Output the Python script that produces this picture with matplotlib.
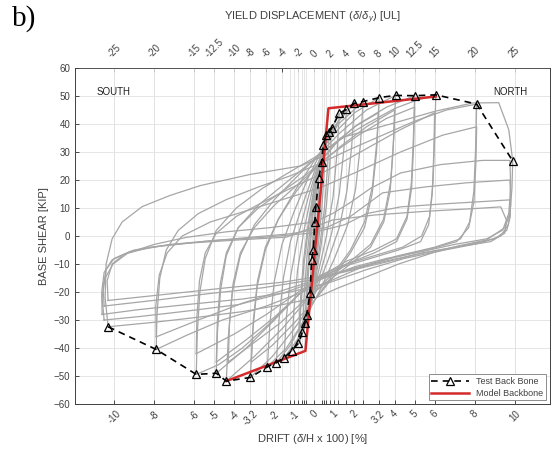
import matplotlib
matplotlib.use('Agg')
import matplotlib.pyplot as plt

plt.rcParams['font.family'] = ['Liberation Sans', 'DejaVu Sans']
plt.rcParams['mathtext.fontset'] = 'custom'
plt.rcParams['mathtext.rm'] = 'Liberation Sans'
plt.rcParams['mathtext.it'] = 'Liberation Sans:italic'

# drift [%] that equals one yield displacement
delta_y = 0.4

# test backbone points (drift %, base shear kip)
bb_drift = [-10.3, -7.9, -5.9, -4.9, -4.4, -3.2, -2.35, -1.9, -1.52, -1.14, -0.8, -0.6,
            -0.47, -0.39, -0.22, -0.14, -0.06, 0.02, 0.07, 0.22, 0.36, 0.44, 0.57, 0.74,
            0.86, 1.24, 1.6, 2.0, 2.43, 3.23, 4.05, 5.0, 6.06, 8.1, 9.9]
bb_shear = [-32.4, -40.5, -49.4, -49.0, -51.8, -50.5, -46.7, -45.2, -43.5, -41.0, -38.3, -34.2,
            -31.0, -28.2, -20.5, -8.6, -5.0, 5.0, 10.5, 20.6, 26.5, 32.5, 36.0, 37.3,
            38.5, 43.8, 45.2, 47.4, 48.0, 49.4, 50.2, 50.1, 50.4, 47.1, 26.8]

# model backbone
mod_drift = [-4.4, -0.45, 0.7, 6.06]
mod_shear = [-51.8, -41.0, 45.6, 49.8]

drift_ticks = [-10, -8, -6, -5, -4, -3.2, -2, -1, 0, 1, 2, 3.2, 4, 5, 6, 8, 10]
drift_minor = [-2.4, -1.2, -0.8, -0.6, -0.5, -0.4, 0.4, 0.5, 0.6, 0.8, 1.2, 1.6, 2.4]
yield_ticks = [-25, -20, -15, -12.5, -10, -8, -6, -4, -2, 0, 2, 4, 6, 8, 10, 12.5, 15, 20, 25]
shear_ticks = [-60, -50, -40, -30, -20, -10, 0, 10, 20, 30, 40, 50, 60]

# hysteresis cycles (drift %, shear kip)
cyc_a = [(-0.06, -5), (-0.04, -1), (0.0, 4), (0.04, 8), (0.07, 10.5), (0.05, 6), (0.02, 1),
         (-0.02, -3), (-0.06, -5)]
cyc_b = [(-0.22, -20.5), (-0.17, -11), (-0.09, -1), (0.02, 9), (0.12, 16), (0.22, 20.6),
         (0.17, 11), (0.09, 1), (-0.02, -9), (-0.12, -16), (-0.22, -20.5)]
cyc_c = [(-0.39, -28.2), (-0.33, -17), (-0.22, -5), (-0.08, 7), (0.1, 17), (0.24, 23),
         (0.36, 26.5), (0.31, 16), (0.21, 4), (0.06, -8), (-0.12, -18), (-0.27, -25),
         (-0.39, -28.2)]
cyc_d = [(-0.47, -31), (-0.4, -19), (-0.28, -6), (-0.1, 8), (0.1, 20), (0.3, 28), (0.44, 32.5),
         (0.38, 20), (0.26, 6), (0.08, -8), (-0.12, -19), (-0.32, -27), (-0.47, -31)]
cyc_e = [(-0.59, -34.2), (-0.52, -22), (-0.38, -8), (-0.16, 7), (0.08, 20), (0.34, 30),
         (0.57, 36), (0.5, 24), (0.36, 9), (0.14, -7), (-0.1, -19), (-0.36, -29), (-0.59, -34.2)]
cyc_f = [(-0.76, -38.3), (-0.68, -25), (-0.52, -10), (-0.26, 5), (0.04, 19), (0.38, 30),
         (0.74, 37.3), (0.66, 25), (0.5, 10), (0.24, -5), (-0.06, -19), (-0.42, -31),
         (-0.76, -38.3)]
cyc_g = [(-0.8, -38.3), (-0.71, -24), (-0.55, -9), (-0.3, 5), (0.0, 18), (0.4, 30), (0.86, 38.5),
         (0.77, 26), (0.6, 11), (0.32, -4), (0.0, -18), (-0.4, -31), (-0.8, -38.3)]
cyc_h = [(-1.14, -41), (-1.03, -27), (-0.84, -12), (-0.52, 2), (-0.12, 16), (0.3, 28),
         (0.75, 37), (1.24, 43.8), (1.13, 30), (0.93, 14), (0.6, 0), (0.16, -14),
         (-0.3, -27), (-0.72, -36), (-1.14, -41)]
cyc_i = [(-1.52, -43.5), (-1.4, -29), (-1.18, -14), (-0.82, 0), (-0.3, 14), (0.2, 26),
         (0.8, 37), (1.6, 45.2), (1.47, 31), (1.24, 15), (0.86, 1), (0.3, -13), (-0.25, -26),
         (-0.85, -37), (-1.52, -43.5)]
cyc_j = [(-1.9, -45.2), (-1.77, -30), (-1.55, -15), (-1.2, -2), (-0.6, 11), (0.0, 23),
         (0.6, 33), (1.2, 41), (2.0, 47.4), (1.86, 32), (1.62, 16), (1.24, 3), (0.66, -9),
         (0.0, -21), (-0.6, -31), (-1.2, -39), (-1.9, -45.2)]
cyc_k = [(-2.35, -46.7), (-2.22, -31), (-2.0, -16), (-1.62, -3), (-1.0, 9), (-0.3, 21),
         (0.4, 31), (1.2, 40), (2.43, 48), (2.3, 33), (2.06, 17), (1.66, 4), (1.0, -8),
         (0.3, -19), (-0.5, -30), (-1.4, -40), (-2.35, -46.7)]
cyc_l = [(-3.2, -50.5), (-3.08, -34), (-2.86, -18), (-2.45, -5), (-1.8, 6), (-0.9, 17),
         (0.0, 27), (0.9, 36), (2.0, 44), (3.23, 49.4), (3.12, 34), (2.9, 18), (2.5, 5),
         (1.8, -5), (0.9, -14), (0.0, -23), (-1.0, -33), (-2.1, -43), (-3.2, -50.5)]
cyc_m = [(-4.4, -51.8), (-4.3, -36), (-4.1, -20), (-3.7, -7), (-3.0, 4), (-2.0, 13),
         (-0.9, 21), (0.2, 29), (1.3, 37), (2.6, 45), (4.05, 50.2), (3.96, 35), (3.8, 19),
         (3.45, 6), (2.8, -3), (1.8, -9), (0.7, -15), (-0.4, -23), (-1.6, -33), (-3.0, -43),
         (-4.4, -51.8)]
cyc_n = [(-4.9, -49), (-4.84, -34), (-4.68, -19), (-4.4, -7), (-3.8, 3), (-2.8, 11),
         (-1.6, 18), (-0.4, 25), (0.8, 32), (2.2, 40), (3.6, 46), (5.0, 50.1), (4.94, 35),
         (4.84, 19), (4.62, 7), (4.1, -1), (3.0, -5), (1.6, -9), (0.4, -14), (-0.8, -21),
         (-2.0, -30), (-3.4, -40), (-4.9, -49)]
cyc_o = [(-5.9, -49.4), (-5.85, -35), (-5.72, -20), (-5.45, -8), (-4.9, 2), (-3.9, 10),
         (-2.6, 17), (-1.2, 23), (0.0, 28), (1.2, 34), (2.6, 40), (4.0, 45.5), (5.1, 48.5),
         (6.06, 50.4), (6.0, 35), (5.92, 19), (5.75, 7), (5.35, 0), (4.4, -4), (3.0, -7),
         (1.6, -10), (0.3, -14), (-0.8, -21), (-2.2, -31), (-3.6, -40), (-4.8, -46),
         (-5.9, -49.4)]
cyc_p = [(-7.9, -40.5), (-7.86, -28), (-7.72, -15), (-7.4, -5), (-6.8, 2), (-5.8, 8),
         (-4.4, 13), (-2.8, 17.5), (-1.2, 21.5), (0.3, 26), (1.8, 31), (3.4, 36), (5.0, 41),
         (6.6, 45), (8.1, 47.1), (8.05, 32), (7.96, 16), (7.75, 5), (7.3, -1), (6.0, -4),
         (4.2, -7), (2.4, -11), (0.8, -16), (-0.6, -20), (-2.4, -25), (-4.6, -30),
         (-6.4, -35.5), (-7.9, -40.5)]
cyc_q = [(-10.3, -32.4), (-10.45, -22), (-10.4, -10), (-10.1, -1), (-9.6, 5), (-8.6, 10.5),
         (-7.2, 14.5), (-5.7, 18), (-3.2, 22), (-0.7, 25), (0.6, 29), (1.3, 35), (2.8, 38),
         (4.3, 41), (6.0, 44.5), (7.9, 47.5), (9.2, 47.6), (9.7, 38), (9.9, 26.8), (9.86, 17),
         (9.76, 8), (9.5, 3), (8.6, -1.4), (7.2, -3.5), (5.9, -6), (4.2, -10), (2.6, -14.6),
         (1.2, -18.5), (0.1, -22), (-1.6, -24.5), (-3.6, -27), (-5.8, -29), (-8.0, -30.8),
         (-10.3, -32.4)]
cyc_r = [(-7.9, -36), (-7.92, -25), (-7.75, -14), (-7.35, -6), (-6.6, 0), (-5.2, 5),
         (-3.4, 9), (-1.6, 13), (0.2, 17), (2.0, 22.5), (4.3, 30), (6.4, 36), (8.1, 39),
         (8.06, 26), (7.96, 12), (7.7, 3), (7.1, -2), (5.6, -5), (3.8, -8), (2.0, -11.5),
         (0.4, -15), (-1.4, -19), (-3.6, -24), (-5.8, -30), (-7.9, -36)]
cyc_s = [(-10.5, -30), (-10.6, -22), (-10.45, -15), (-10.05, -10), (-9.3, -6), (-8.0, -3),
         (-6.4, -0.5), (-4.4, 1.5), (-2.2, 3), (0.0, 5), (0.9, 8), (1.8, 12), (2.8, 17),
         (4.3, 22.5), (6.3, 25.5), (8.4, 27), (9.76, 27), (9.8, 17), (9.7, 8), (9.4, 2.1),
         (8.6, -1), (7.0, -3), (5.4, -5.5), (3.6, -8), (2.0, -11), (0.5, -15), (-1.4, -20),
         (-3.8, -24.5), (-6.6, -27), (-8.8, -28.8), (-10.5, -30)]
cyc_t = [(-10.6, -28), (-10.62, -20), (-10.5, -13), (-10.1, -8.5), (-9.2, -5.5), (-7.6, -3.5),
         (-5.6, -2), (-3.4, -0.6), (-1.2, 0.8), (0.6, 3), (1.8, 7), (3.4, 15.4), (5.5, 17.5),
         (7.6, 19), (9.76, 20), (9.8, 11), (9.68, 4), (9.3, 0), (8.3, -2.5), (6.5, -5),
         (4.5, -8), (2.6, -12), (0.8, -16.5), (-1.2, -20), (-3.6, -22.5), (-6.4, -24.5),
         (-8.8, -26.3), (-10.6, -28)]
cyc_u = [(-10.5, -25), (-10.55, -18), (-10.4, -12), (-10.0, -8), (-9.0, -5), (-7.2, -3),
         (-5.0, -1.6), (-2.6, -0.5), (-0.2, 1), (1.5, 4), (2.6, 8), (4.3, 10.4), (6.5, 11.5),
         (8.4, 12.3), (9.76, 12.9), (9.78, 7), (9.6, 2), (9.0, -1), (7.4, -3.5), (5.4, -6),
         (3.4, -9.6), (1.4, -13), (-0.4, -16), (-2.6, -18.5), (-5.2, -20.5), (-7.8, -22.8),
         (-10.5, -25)]
cyc_v = [(-10.3, -23), (-10.35, -16), (-10.1, -10), (-9.5, -6.5), (-8.2, -4), (-6.2, -2.5),
         (-3.8, -1.4), (-1.4, -0.4), (0.9, 5.7), (3.0, 7.5), (5.5, 8.8), (8.0, 9.8),
         (9.3, 10.4), (9.6, 5.5), (9.5, 1), (8.8, -2), (7.0, -4), (4.8, -7), (2.6, -10.5),
         (0.6, -14), (-1.6, -16.5), (-4.4, -18.5), (-7.4, -20.8), (-10.3, -23)]
cyc_w = [(-5.9, -42), (-5.87, -29), (-5.74, -16), (-5.45, -6), (-4.9, 1), (-3.9, 7),
         (-2.6, 12), (-1.2, 17), (0.0, 21), (1.3, 26), (2.8, 32), (4.3, 38), (6.0, 44),
         (5.96, 30), (5.88, 15), (5.7, 4), (5.3, -2), (4.2, -5), (2.8, -8), (1.4, -11),
         (0.2, -15), (-1.0, -21), (-2.4, -28), (-4.0, -35), (-5.9, -42)]
cyc_x = [(-4.3, -45), (-4.24, -31), (-4.06, -17), (-3.7, -6), (-3.0, 3), (-2.0, 11),
         (-0.9, 18), (0.2, 25), (1.3, 32), (2.6, 39), (4.0, 45), (3.93, 31), (3.78, 16),
         (3.46, 5), (2.8, -4), (1.8, -10), (0.7, -16), (-0.5, -23), (-1.7, -31), (-3.0, -38),
         (-4.3, -45)]
cyc_y = [(-3.15, -45), (-3.05, -30), (-2.84, -16), (-2.45, -4), (-1.8, 6), (-0.9, 16),
         (0.0, 24), (0.9, 32), (2.0, 39), (3.2, 44), (3.1, 30), (2.88, 15), (2.5, 3),
         (1.8, -6), (0.9, -15), (0.0, -23), (-1.0, -31), (-2.1, -39), (-3.15, -45)]
cyc_z = [(-4.9, -45), (-4.85, -31), (-4.7, -17), (-4.4, -6), (-3.8, 3), (-2.8, 10), (-1.6, 16),
         (-0.4, 22), (0.8, 29), (2.2, 36), (3.6, 42), (5.0, 46), (4.95, 32), (4.85, 17),
         (4.62, 6), (4.1, -2), (3.0, -6), (1.6, -10), (0.4, -15), (-0.8, -21), (-2.0, -29),
         (-3.4, -37), (-4.9, -45)]

cycles = [cyc_a, cyc_b, cyc_c, cyc_d, cyc_e, cyc_f, cyc_g, cyc_h, cyc_i, cyc_j, cyc_k, cyc_l,
          cyc_m, cyc_n, cyc_o, cyc_p, cyc_q, cyc_r, cyc_s, cyc_t, cyc_u, cyc_v, cyc_w, cyc_x,
          cyc_y, cyc_z]

txt = '#404040'
grid_c = '#e2e2e2'

fig = plt.figure(figsize=(5.52, 4.53), dpi=100)
ax = fig.add_axes([0.136, 0.108, 0.860, 0.742])
ax2 = ax.twiny()
ax.set_zorder(1)
ax.patch.set_visible(False)

for c in cycles:
    d, v = zip(*c)
    ax.plot(d, v, color='#a6a6a6', lw=0.9, zorder=2)

h2, = ax.plot(mod_drift, mod_shear, color='#d42a2a', lw=1.8, label='Model Backbone', zorder=3)
h1, = ax.plot(bb_drift, bb_shear, ls=(0, (4, 3)), color='k', lw=1.2, marker='^', ms=5.5,
              mfc='none', mec='k', mew=0.9, label='Test Back Bone', zorder=4)

ax.set_xlim(-11.95, 11.75)
ax.set_ylim(-60, 60)
ax.set_xticks(drift_ticks)
ax.set_xticklabels([str(t) for t in drift_ticks])
ax.set_xticks(drift_minor, minor=True)
ax.set_yticks(shear_ticks)
ax.tick_params(axis='x', which='both', direction='in', length=3, colors='#303030',
               labelcolor=txt, labelsize=7, labelrotation=45, width=0.6)
ax.tick_params(axis='y', direction='in', length=3, colors='#303030', labelcolor=txt,
               labelsize=7, width=0.6)
ax.grid(True, which='both', color=grid_c, lw=0.6)

ax2.set_xlim(ax.get_xlim()[0] / delta_y, ax.get_xlim()[1] / delta_y)
ax2.set_xticks(yield_ticks)
ax2.set_xticklabels([str(t) for t in yield_ticks])
ax2.tick_params(axis='x', direction='in', length=3, colors='#303030', labelcolor=txt,
                labelsize=7, labelrotation=45, width=0.6, pad=6)
ax2.grid(True, axis='x', color=grid_c, lw=0.6)

for a in (ax, ax2):
    for s in a.spines.values():
        s.set_color('#404040')
        s.set_linewidth(0.6)

ax.set_xlabel(r'DRIFT ($\delta$/H x 100) [%]', color=txt, fontsize=8, labelpad=3)
ax.set_ylabel('BASE SHEAR [KIP]', color=txt, fontsize=8, labelpad=3)
ax2.set_xlabel(r'YIELD DISPLACEMENT ($\delta/\delta_y$) [UL]', color=txt, fontsize=8, labelpad=12)

ax.text(-10.9, 51.5, 'SOUTH', fontsize=7, color='#202020', va='center')
ax.text(8.95, 51.5, 'NORTH', fontsize=7, color='#202020', va='center')

leg = ax.legend(handles=[h1, h2], loc='lower right', fontsize=6.5, fancybox=False,
                edgecolor='#8c8c8c', framealpha=1, borderaxespad=0.4, handlelength=4.2,
                borderpad=0.3, labelspacing=0.3)
leg.get_frame().set_linewidth(0.7)
for t in leg.get_texts():
    t.set_color(txt)

fig.text(0.022, 0.958, 'b)', family='Liberation Serif', fontsize=21, va='center')

fig.savefig('out.png', dpi=100)
